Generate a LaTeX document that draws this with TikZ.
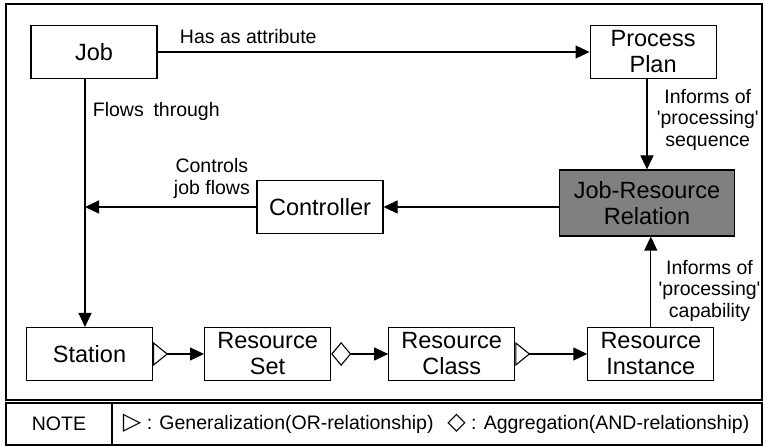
\documentclass[tikz,border=0pt]{standalone}
\usepackage{fontspec}
\setmainfont{Liberation Sans}
\newfontfamily\symfont{DejaVu Sans}
\usetikzlibrary{arrows.meta,positioning}

\newcommand{\boxfont}{\fontsize{23.5}{26}\selectfont}
\newcommand{\lblfont}{\fontsize{19.5}{21.5}\selectfont}

\begin{document}
\begin{tikzpicture}[x=1pt,y=-1pt,line width=1.1pt,font=\lblfont,
    >={Triangle[length=14pt,width=13pt]},
    base/.style={rectangle,draw,minimum width=126pt,minimum height=53pt,inner sep=0pt,align=center,font=\boxfont},
    genrel/.style={{Triangle[reversed,length=15pt,width=24pt,fill=white]}->},
    aggrel/.style={{Diamond[length=20pt,width=24pt,fill=white]}->}]

    \useasboundingbox (0,0) rectangle (765,446);
    \draw (6,4) rectangle (762,400);
    \draw (6,403) rectangle (762,445);
    \draw (112,403) -- (112,445);

    % upper part
    \node[base] (job) at (94,52) {Job};
    \node[base, right=432pt of job] (plan) {Process\\Plan};
    \node[base, fill=black!50, minimum width=175pt, minimum height=66pt] (jrr) at (647,203)
    {Job-Resource\\Relation};
    \node[base] (ctrl) at (320,207) {Controller};

    % resource chain
    \node[base] (station) at (89.5,354) {Station};
    \node[base, right=51pt of station] (rset) {Resource\\Set};
    \node[base, right=57pt of rset] (rclass) {Resource\\Class};
    \node[base, right=72pt of rclass] (rinst) {Resource\\Instance};

    \coordinate (bend) at ([xshift=-9pt]job.south);
    \coordinate (merge) at (bend |- ctrl.west);

    \draw[->] (job) -- node[above=4pt, pos=0.21] {Has as attribute} (plan);
    \draw[->] (bend) -- node[right=4pt, pos=0.13] {Flows\hspace{0.5em}through} (bend |- station.north);
    \draw[->] (plan.south -| jrr.north) -- node[right=6pt, align=center, pos=0.45]
    {Informs of\\\textquotesingle processing\textquotesingle\\sequence} (jrr.north);
    \draw[->] (jrr.west |- ctrl.east) -- (ctrl.east);
    \draw[->] (ctrl) -- node[above=5pt, pos=0.26, align=center] {Controls\\job flows} (merge);
    \draw[->] (rinst.north) -- node[right=4pt, align=center, pos=0.4]
    {Informs of\\\textquotesingle processing\textquotesingle\\capability} (rinst.north |- jrr.south);

    \draw[genrel] (station) -- (rset);
    \draw[aggrel] (rset) -- (rclass);
    \draw[genrel] (rclass) -- (rinst);

    % note row
    \node (note) at (59,424) {NOTE};
    \node[anchor=west] (legend) at (119,424)
    {{\symfont\fontsize{24}{24}\selectfont ▷} : Generalization(OR-relationship)\hspace{0.7em}{\symfont\fontsize{24}{24}\selectfont ◇} : Aggregation(AND-relationship)};
\end{tikzpicture}
\end{document}
